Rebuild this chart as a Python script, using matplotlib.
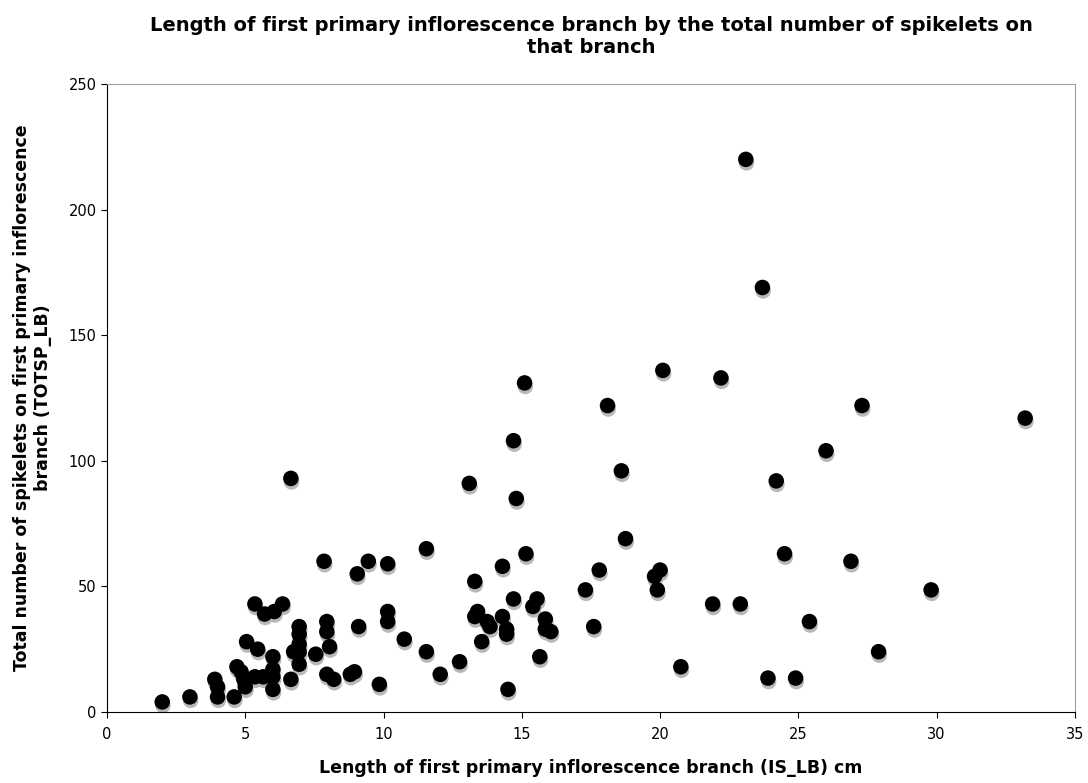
import numpy as np
import matplotlib
matplotlib.use("Agg")
import matplotlib.pyplot as plt
from matplotlib.transforms import offset_copy

# branch length (cm) and spikelet count on that branch
is_lb = [2.0, 3.0, 3.9, 4.0, 4.0, 4.6, 4.7, 4.85, 4.95, 5.0,
         5.05, 5.35, 5.35, 5.45, 5.65, 5.7, 6.0, 6.0, 6.0, 6.0,
         6.05, 6.35, 6.65, 6.65, 6.75, 6.95, 6.95, 6.95, 6.95, 6.95,
         7.55, 7.85, 7.95, 7.95, 8.05, 7.95, 8.2, 8.8, 8.95, 9.05,
         9.1, 9.45, 9.85, 10.15, 10.15, 10.15, 10.75, 11.55, 11.55, 12.05,
         12.75, 13.1, 13.3, 13.3, 13.4, 13.55, 13.75, 13.85, 14.3, 14.3,
         14.45, 14.45, 14.5, 14.7, 14.7, 14.8, 15.1, 15.15, 15.4, 15.55,
         15.65, 15.85, 15.85, 16.05, 17.3, 17.6, 17.8, 18.1, 18.6, 18.75,
         19.8, 19.9, 20.0, 20.1, 20.75, 21.9, 22.2, 22.9, 23.1, 23.7,
         23.9, 24.2, 24.5, 24.9, 25.4, 26.0, 26.9, 27.3, 27.9, 29.8,
         33.2]
totsp_lb = [4, 6, 13, 10, 6, 6, 18, 16, 13, 10,
            28, 43, 14, 25, 14, 39, 14, 9, 17, 22,
            40, 43, 13, 93, 24, 34, 31, 27, 24, 19,
            23, 60, 36, 32, 26, 15, 13, 15, 16, 55,
            34, 60, 11, 59, 40, 36, 29, 65, 24, 15,
            20, 91, 52, 38, 40, 28, 36, 34, 58, 38,
            33, 31, 9, 108, 45, 85, 131, 63, 42, 45,
            22, 37, 33, 32, 48.6, 34, 56.5, 122, 96, 69,
            54, 48.6, 56.5, 136, 18, 43, 133, 43, 220, 169,
            13.5, 92, 63, 13.5, 36, 104, 60, 122, 24, 48.6,
            117]

fig = plt.figure(figsize=(10.88, 7.83), dpi=100)
ax = fig.add_axes([0.0983, 0.0907, 0.8897, 0.802])

# soft grey shadow under each marker, then the black marker
shadow = offset_copy(ax.transData, fig=fig, x=0.5, y=-2.5, units="points")
ax.scatter(is_lb, totsp_lb, s=125, color="#b8b8b8", edgecolors="none",
           transform=shadow, zorder=2)
ax.scatter(is_lb, totsp_lb, s=125, color="black", edgecolors="none", zorder=3)

ax.set_xlim(0, 35)
ax.set_ylim(0, 250)
ax.set_xticks(np.arange(0, 36, 5))
ax.set_yticks(np.arange(0, 251, 50))
ax.tick_params(labelsize=10.5, length=4, direction="out")
ax.tick_params(axis="x", pad=7)

ax.spines["top"].set_color("#a0a0a0")
ax.spines["right"].set_color("#a0a0a0")
ax.spines["left"].set_color("black")
ax.spines["bottom"].set_color("black")

ax.set_title("Length of first primary inflorescence branch by the total number of spikelets on\nthat branch",
             fontsize=14, fontweight="bold", pad=22)
ax.set_xlabel("Length of first primary inflorescence branch (IS_LB) cm",
              fontsize=12.5, fontweight="bold", labelpad=12)
ax.set_ylabel("Total number of spikelets on first primary inflorescence\nbranch (TOTSP_LB)",
              fontsize=12.5, fontweight="bold", labelpad=12)

fig.savefig("out.png", dpi=100)
